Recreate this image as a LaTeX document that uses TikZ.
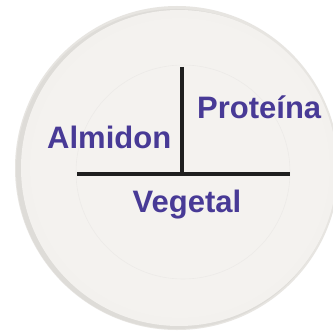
\documentclass[tikz,border=0pt]{standalone}
\usepackage{fontspec}
\setmainfont{Liberation Sans}
\usepackage{xcolor}
\definecolor{platelabel}{RGB}{72,58,150}
\definecolor{platebody}{RGB}{244,242,239}
\definecolor{plateedge}{RGB}{222,220,216}

\begin{document}
\begin{tikzpicture}[x=1pt,y=-1pt,line cap=butt,
  lbl/.style={inner sep=0pt,text=platelabel,font=\fontsize{31}{31}\selectfont\bfseries}]
\useasboundingbox (0,0) rectangle (332,334);
\fill[white] (0,0) rectangle (332,334);
% plate
\fill[plateedge!60!platebody] (177,168) circle (162);
\fill[plateedge] (176,169) circle (160);
\fill[platebody!97!plateedge] (179,168) circle (158);
\fill[platebody] (180,168) circle (150);
\draw[platebody!94!black,line width=0.6pt,opacity=0.5] (183,172) circle (107);
% dividers
\coordinate (top) at (182,67);
\coordinate (mid) at (182,174);
\coordinate (left) at (77,174);
\coordinate (right) at (290,174);
\draw[line width=4pt,black!88] (left) -- (right);
\draw[line width=4pt,black!88] (top) -- (mid);
% labels
\node[lbl,anchor=base west] (prot) at (197,118) {Proteína};
\node[lbl,anchor=base west] (almi) at (47,148) {Almidon};
\node[lbl,anchor=base] (vege) at (187,212) {Vegetal};
\end{tikzpicture}
\end{document}
